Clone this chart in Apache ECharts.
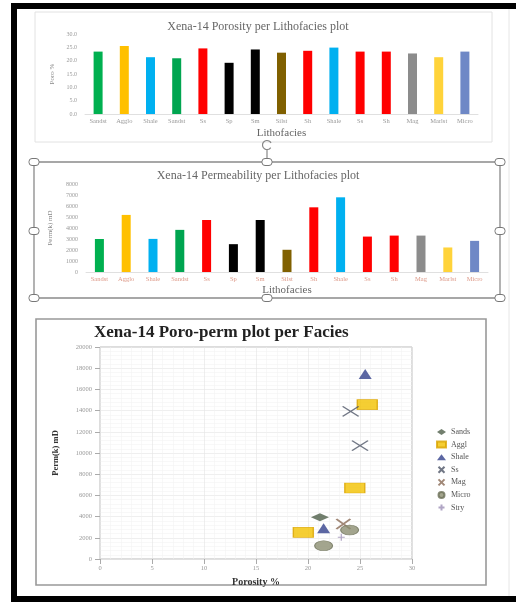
<!DOCTYPE html>
<html>
<head>
<meta charset="utf-8">
<script src="https://cdn.jsdelivr.net/npm/echarts@6/dist/echarts.min.js"></script>
<style>
  html, body { margin: 0; padding: 0; background: #fff; }
  #chart { width: 516px; height: 602px; }
</style>
</head>
<body>
<div id="chart"></div>
<script>
// lithofacies bars (same categories in both bar plots)
const categories = ['Sandst', 'Agglo', 'Shale', 'Sandst', 'Ss', 'Sp', 'Sm', 'Silst', 'Sh', 'Shale', 'Ss', 'Sh', 'Mag', 'Marlst', 'Micro'];
const porosity = [23.4, 25.5, 21.3, 20.9, 24.6, 19.2, 24.2, 23.0, 23.7, 24.9, 23.4, 23.4, 22.7, 21.3, 23.4];
const permeability = [3000, 5190, 3010, 3830, 4730, 2530, 4730, 2020, 5880, 6790, 3220, 3310, 3310, 2230, 2830];
const barColors = ['#00b050', '#ffc000', '#00b0f0', '#00a550', '#ff0000', '#000000', '#000000', '#806000',
                   '#ff0000', '#00b0f0', '#ff0000', '#ff0000', '#8c8c8c', '#ffd33a', '#6f88c6'];

// poro-perm scatter, [porosity %, perm mD]
const sandsPts = [[21.15, 3930]];
const agglPts = [[25.7, 14560], [24.5, 6700], [19.55, 2520]];
const shalePts = [[25.5, 17450], [21.5, 2900]];
const ssPts = [[24.1, 13930], [25.0, 10690]];
const magPts = [[23.4, 3300]];
const microPts = [[21.5, 1250], [24.0, 2740]];
const stryPts = [[23.2, 2050]];

const serif = 'Liberation Serif';
const chart = echarts.init(document.getElementById('chart'));

const smallLabel = { fontSize: 6, color: '#999', fontFamily: serif };
const plain = v => String(v);

// little white resize handles on the selected chart frame
const handle = (x, y) => ({
  type: 'rect', shape: { x: x - 5, y: y - 3.5, width: 10, height: 7, r: 3 },
  style: { fill: '#fff', stroke: '#777', lineWidth: 1 }, z: 10
});

const option = {
  animation: false,
  title: [
    { text: 'Xena-14 Porosity per Lithofacies plot', left: 'center', top: 16,
      textStyle: { fontSize: 12, color: '#666', fontWeight: 'normal', fontFamily: serif } },
    { text: 'Xena-14 Permeability per Lithofacies plot', left: 'center', top: 165,
      textStyle: { fontSize: 12, color: '#666', fontWeight: 'normal', fontFamily: serif } },
    { text: 'Xena-14 Poro-perm plot per Facies', left: 89, top: 319,
      textStyle: { fontSize: 17, color: '#222', fontWeight: 'bold', fontFamily: serif } }
  ],
  legend: {
    data: ['Sands', 'Aggl', 'Shale', 'Ss', 'Mag', 'Micro', 'Stry'],
    orient: 'vertical', left: 431, top: 423,
    itemWidth: 9, itemHeight: 6, itemGap: 4.6,
    textStyle: { fontSize: 8, color: '#555', fontFamily: serif }
  },
  grid: [
    { left: 85, top: 34, width: 393, height: 80 },
    { left: 86, top: 184, width: 402, height: 88 },
    { left: 100, top: 347, width: 312, height: 212, show: true, borderColor: '#bbb', borderWidth: 1 }
  ],
  xAxis: [
    { type: 'category', gridIndex: 0, data: categories,
      axisTick: { show: false }, axisLine: { lineStyle: { color: '#e0e0e0' } },
      axisLabel: Object.assign({ interval: 0, margin: 4 }, smallLabel, { fontSize: 6.5 }),
      name: 'Lithofacies', nameLocation: 'middle', nameGap: 14,
      nameTextStyle: { fontSize: 11, color: '#666', fontFamily: serif } },
    { type: 'category', gridIndex: 1, data: categories,
      axisTick: { show: false }, axisLine: { lineStyle: { color: '#e0e0e0' } },
      axisLabel: Object.assign({ interval: 0, margin: 4 }, smallLabel, { fontSize: 6.5, color: '#d98' }),
      name: 'Lithofacies', nameLocation: 'middle', nameGap: 13,
      nameTextStyle: { fontSize: 11, color: '#666', fontFamily: serif } },
    { type: 'value', gridIndex: 2, min: 0, max: 30, interval: 5,
      axisLine: { show: false }, axisTick: { show: true, lineStyle: { color: '#aaa' } },
      axisLabel: Object.assign({ margin: 6 }, smallLabel, { fontSize: 6.5 }),
      splitLine: { show: true, lineStyle: { color: '#e4e4e4', width: 0.6 } },
      minorSplitLine: { show: true, lineStyle: { color: '#f1f1f1', width: 0.5 } },
      name: 'Porosity %', nameLocation: 'middle', nameGap: 18,
      nameTextStyle: { fontSize: 10, color: '#333', fontWeight: 'bold', fontFamily: serif } }
  ],
  yAxis: [
    { type: 'value', gridIndex: 0, min: 0, max: 30, interval: 5,
      splitLine: { show: false }, axisLine: { show: false }, axisTick: { show: false },
      axisLabel: Object.assign({ formatter: v => v.toFixed(1), margin: 8 }, smallLabel),
      name: 'Poro %', nameLocation: 'middle', nameGap: 28,
      nameTextStyle: { fontSize: 7, color: '#888', fontFamily: serif } },
    { type: 'value', gridIndex: 1, min: 0, max: 8000, interval: 1000,
      splitLine: { show: false }, axisLine: { show: false }, axisTick: { show: false },
      axisLabel: Object.assign({ formatter: plain, margin: 8 }, smallLabel),
      name: 'Perm(k) mD', nameLocation: 'middle', nameGap: 32,
      nameTextStyle: { fontSize: 7, color: '#888', fontFamily: serif } },
    { type: 'value', gridIndex: 2, min: 0, max: 20000, interval: 2000,
      axisLine: { show: false }, axisTick: { show: true, lineStyle: { color: '#aaa' } },
      axisLabel: Object.assign({ formatter: plain, margin: 8 }, smallLabel, { fontSize: 6.5 }),
      splitLine: { show: true, lineStyle: { color: '#e4e4e4', width: 0.6 } },
      minorSplitLine: { show: true, lineStyle: { color: '#f1f1f1', width: 0.5 } },
      name: 'Perm(k) mD', nameLocation: 'middle', nameGap: 40,
      nameTextStyle: { fontSize: 8.5, color: '#333', fontWeight: 'bold', fontFamily: serif } }
  ],
  series: [
    { type: 'bar', xAxisIndex: 0, yAxisIndex: 0, data: porosity, barWidth: 9,
      itemStyle: { color: p => barColors[p.dataIndex] } },
    { type: 'bar', xAxisIndex: 1, yAxisIndex: 1, data: permeability, barWidth: 9,
      itemStyle: { color: p => barColors[p.dataIndex] } },
    { name: 'Sands', type: 'scatter', xAxisIndex: 2, yAxisIndex: 2, data: sandsPts,
      symbol: 'diamond', symbolSize: [18, 8], itemStyle: { color: '#4f5f4a' } },
    { name: 'Aggl', type: 'scatter', xAxisIndex: 2, yAxisIndex: 2, data: agglPts,
      symbol: 'rect', symbolSize: [20, 10],
      itemStyle: { color: '#f2c200', borderColor: '#d9a400', borderWidth: 1 } },
    { name: 'Shale', type: 'scatter', xAxisIndex: 2, yAxisIndex: 2, data: shalePts,
      symbol: 'triangle', symbolSize: [13, 10], itemStyle: { color: '#33418c' } },
    { name: 'Ss', type: 'scatter', xAxisIndex: 2, yAxisIndex: 2, data: ssPts,
      symbol: 'path://M0,0L10,10M10,0L0,10', symbolSize: [16, 10],
      itemStyle: { color: 'transparent', borderColor: '#4d5566', borderWidth: 1.4 } },
    { name: 'Mag', type: 'scatter', xAxisIndex: 2, yAxisIndex: 2, data: magPts,
      symbol: 'path://M0,0L10,10M10,0L0,10', symbolSize: [14, 10],
      itemStyle: { color: 'transparent', borderColor: '#8a6a55', borderWidth: 2 } },
    { name: 'Micro', type: 'scatter', xAxisIndex: 2, yAxisIndex: 2, data: microPts,
      symbol: 'circle', symbolSize: [18, 10],
      itemStyle: { color: '#8c8f72', borderColor: '#6c6f58', borderWidth: 0.8 } },
    { name: 'Stry', type: 'scatter', xAxisIndex: 2, yAxisIndex: 2, data: stryPts,
      symbol: 'path://M5,0L5,10M0,5L10,5', symbolSize: 7,
      itemStyle: { color: 'transparent', borderColor: '#9c8fb5', borderWidth: 1.2 } }
  ],
  graphic: [
    // page frame
    { type: 'rect', shape: { x: 11, y: 3, width: 6, height: 599 }, style: { fill: '#000' } },
    { type: 'rect', shape: { x: 11, y: 3, width: 505, height: 6 }, style: { fill: '#000' } },
    { type: 'rect', shape: { x: 11, y: 596, width: 505, height: 6 }, style: { fill: '#000' } },
    { type: 'line', shape: { x1: 509, y1: 9, x2: 509, y2: 596 }, style: { stroke: '#e6e6e6', lineWidth: 1 } },
    // porosity chart panel
    { type: 'rect', shape: { x: 35, y: 12, width: 457, height: 130 }, style: { fill: 'none', stroke: '#e2e2e2', lineWidth: 1 } },
    // rotate handle above the selected chart
    { type: 'arc', shape: { cx: 267, cy: 145, r: 4.5, startAngle: 0.6, endAngle: 5.8 }, style: { fill: 'none', stroke: '#888', lineWidth: 1.2 } },
    { type: 'line', shape: { x1: 267, y1: 150, x2: 267, y2: 159 }, style: { stroke: '#888', lineWidth: 1.2 } },
    // selected permeability chart frame
    { type: 'rect', shape: { x: 34, y: 162, width: 466, height: 136 }, style: { fill: 'none', stroke: '#8a8a8a', lineWidth: 1.3 } },
    handle(34, 162), handle(267, 162), handle(500, 162),
    handle(34, 231), handle(500, 231),
    handle(34, 298), handle(267, 298), handle(500, 298),
    // poro-perm chart frame
    { type: 'rect', shape: { x: 36, y: 319, width: 450, height: 266 }, style: { fill: 'none', stroke: '#999', lineWidth: 1.6 } }
  ]
};

chart.setOption(option);
</script>
</body>
</html>
